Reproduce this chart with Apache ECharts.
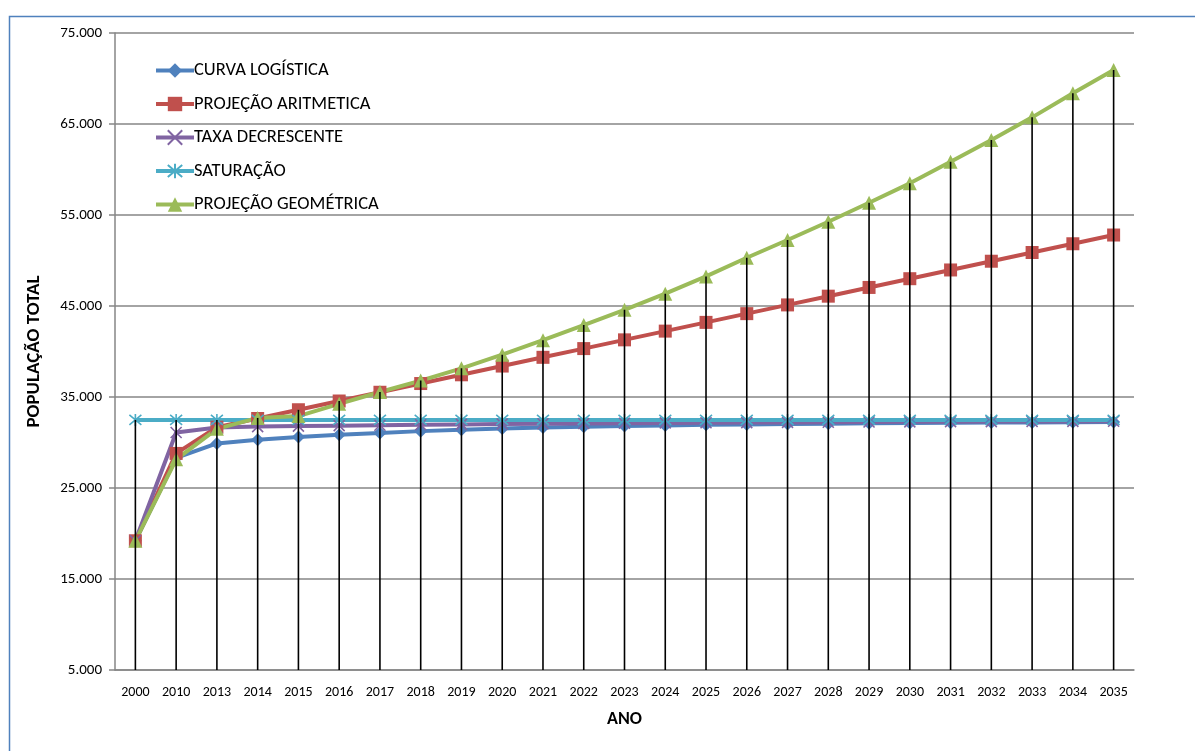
<!DOCTYPE html>
<html>
<head>
<meta charset="utf-8">
<script src="https://cdn.jsdelivr.net/npm/echarts@6/dist/echarts.min.js"></script>
<style>
  html, body { margin: 0; padding: 0; background: #fff; }
  #chart { width: 1195px; height: 751px; }
</style>
</head>
<body>
<div id="chart"></div>
<script>
// Population projections by year (habitantes)
const anos = ['2000','2010','2013','2014','2015','2016','2017','2018','2019','2020','2021','2022','2023','2024','2025','2026','2027','2028','2029','2030','2031','2032','2033','2034','2035'];

const curvaLogistica = [19200, 28300, 29900, 30300, 30600, 30850, 31050, 31250, 31400, 31530, 31640, 31730, 31810, 31880, 31940, 31990, 32030, 32070, 32110, 32140, 32170, 32190, 32210, 32230, 32250];
const projecaoAritmetica = [19200, 28800, 31680, 32640, 33600, 34560, 35520, 36480, 37440, 38400, 39360, 40320, 41280, 42240, 43200, 44160, 45120, 46080, 47040, 48000, 48960, 49920, 50880, 51840, 52800];
const taxaDecrescente = [19200, 31100, 31650, 31750, 31800, 31850, 31900, 31950, 31990, 32030, 32060, 32090, 32120, 32150, 32170, 32190, 32210, 32230, 32250, 32270, 32290, 32300, 32310, 32320, 32330];
const saturacao = [32480, 32480, 32480, 32480, 32480, 32480, 32480, 32480, 32480, 32480, 32480, 32480, 32480, 32480, 32480, 32480, 32480, 32480, 32480, 32480, 32480, 32480, 32480, 32480, 32480];
const projecaoGeometrica = [19200, 28150, 31500, 32700, 32900, 34250, 35550, 36800, 38150, 39650, 41250, 42900, 44580, 46350, 48250, 50300, 52250, 54260, 56350, 58480, 60860, 63240, 65730, 68370, 70930];

const FONT = 'Carlito, "Liberation Sans", sans-serif';

// Drop lines reach from the axis up to the highest projection of each year
const allSeries = [curvaLogistica, projecaoAritmetica, taxaDecrescente, saturacao, projecaoGeometrica];
const dropTop = anos.map((_, i) => Math.max(...allSeries.map(s => s[i])));

const fmt = v => String(v).replace(/\B(?=(\d{3})+(?!\d))/g, '.');

const X_PATH = 'path://M0,0L10,10M10,0L0,10';
const STAR_PATH = 'path://M0,0L10,10M10,0L0,10M5,-1L5,11';

function lineSeries(name, data, color, symbol, size, hollow) {
  return {
    name, type: 'line', data,
    symbol, symbolSize: size,
    lineStyle: { color, width: 4 },
    itemStyle: hollow
      ? { color: 'rgba(0,0,0,0)', borderColor: color, borderWidth: 1.6 }
      : { color, borderColor: color, borderWidth: 0 },
    emphasis: { disabled: true },
    animation: false,
    z: 3
  };
}

const chart = echarts.init(document.getElementById('chart'));
chart.setOption({
  backgroundColor: '#fff',
  animation: false,
  textStyle: { fontFamily: FONT },
  graphic: [{
    type: 'rect', left: 7, top: 14,
    shape: { width: 1200, height: 760 },
    style: { fill: 'none', stroke: '#4f81bd', lineWidth: 1.5 },
    silent: true, z: -10
  }],
  grid: { left: 115, top: 33, right: 61, bottom: 81, containLabel: false },
  legend: {
    data: ['CURVA LOGÍSTICA', 'PROJEÇÃO ARITMETICA', 'TAXA DECRESCENTE', 'SATURAÇÃO', 'PROJEÇÃO GEOMÉTRICA'],
    orient: 'vertical', left: 149, top: 56,
    itemWidth: 38, itemHeight: 18, itemGap: 14.5,
    lineStyle: { width: 4 },
    textStyle: { fontSize: 18.5, lineHeight: 18, color: '#000', fontFamily: FONT, padding: [0, 0, 0, -5] },
    selectedMode: false
  },
  xAxis: {
    type: 'category', data: anos, boundaryGap: true,
    name: 'ANO', nameLocation: 'middle', nameGap: 40,
    nameTextStyle: { fontWeight: 'bold', fontSize: 18, color: '#000', fontFamily: FONT },
    axisLine: { lineStyle: { color: '#868686', width: 1.5 } },
    axisTick: { show: false },
    axisLabel: { color: '#000', fontSize: 14, margin: 15, interval: 0, fontFamily: FONT },
    splitLine: { show: false }
  },
  yAxis: {
    type: 'value', min: 5000, max: 75000, interval: 10000,
    name: 'POPULAÇÃO TOTAL', nameLocation: 'middle', nameGap: 71, nameRotate: 90,
    nameTextStyle: { fontWeight: 'bold', fontSize: 19, color: '#000', fontFamily: FONT },
    axisLine: { show: true, lineStyle: { color: '#868686', width: 1.5 } },
    axisTick: { show: true, inside: false, length: 6, lineStyle: { color: '#868686', width: 1.5 } },
    axisLabel: { color: '#000', fontSize: 15, margin: 13, formatter: v => fmt(v), fontFamily: FONT },
    splitLine: { show: true, lineStyle: { color: '#868686', width: 1.5 } }
  },
  series: [
    lineSeries('CURVA LOGÍSTICA', curvaLogistica, '#4f81bd', 'diamond', 13, false),
    lineSeries('PROJEÇÃO ARITMETICA', projecaoAritmetica, '#c0504d', 'rect', 13, false),
    lineSeries('TAXA DECRESCENTE', taxaDecrescente, '#8064a2', X_PATH, 11, true),
    lineSeries('SATURAÇÃO', saturacao, '#4bacc6', STAR_PATH, 12, true),
    lineSeries('PROJEÇÃO GEOMÉTRICA', projecaoGeometrica, '#9bbb59', 'triangle', 14, false),
    {
      name: 'drop', type: 'bar', data: dropTop,
      barWidth: 1.6, barGap: '-100%',
      itemStyle: { color: '#000' },
      emphasis: { disabled: true },
      clip: true, z: 5, silent: true
    }
  ]
});
</script>
</body>
</html>
